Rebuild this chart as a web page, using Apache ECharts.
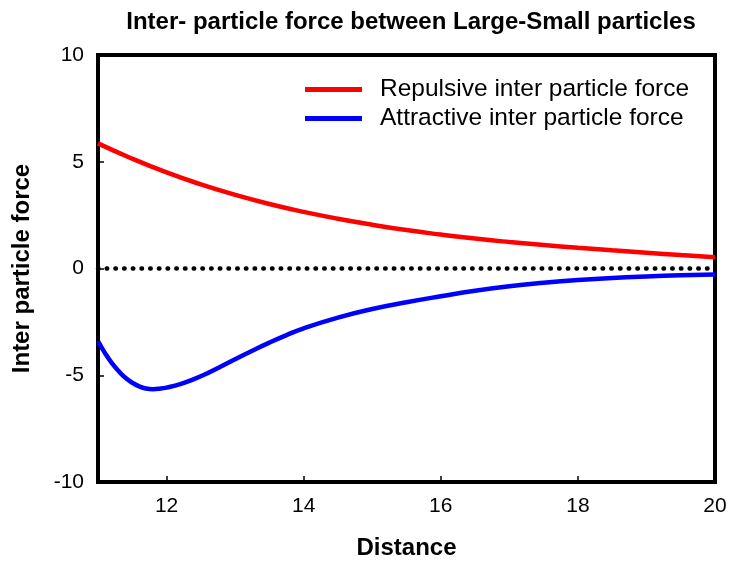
<!DOCTYPE html>
<html>
<head>
<meta charset="utf-8">
<script src="https://cdn.jsdelivr.net/npm/echarts@6/dist/echarts.min.js"></script>
<style>html,body{margin:0;padding:0;background:#fff;}#c{width:752px;height:567px;}</style>
</head>
<body>
<div id="c"></div>
<script>
const titleText = 'Inter- particle force between Large-Small particles';
const xAxisName = 'Distance';
const yAxisName = 'Inter particle force';
const seriesNames = ['Repulsive inter particle force', 'Attractive inter particle force'];
const xTicks = [12, 14, 16, 18, 20];
const yTicks = [-10, -5, 0, 5, 10];

const repulsiveX = [11, 11.5, 12, 12.5, 13, 13.5, 14, 14.5, 15, 15.5, 16, 16.5, 17, 17.5, 18, 18.5, 19, 19.5, 20];
const repulsiveY = [5.86, 5.14, 4.50, 3.94, 3.45, 3.02, 2.65, 2.33, 2.05, 1.80, 1.59, 1.40, 1.24, 1.10, 0.97, 0.85, 0.74, 0.63, 0.53];

const attractiveX = [11, 11.1, 11.2, 11.3, 11.4, 11.5, 11.6, 11.7, 11.8, 11.9, 12, 12.2, 12.4, 12.6, 12.8, 13, 13.25, 13.5, 13.75, 14, 14.5, 15, 15.5, 16, 16.5, 17, 17.5, 18, 18.5, 19, 19.5, 20];
const attractiveY = [-3.40, -3.95, -4.42, -4.80, -5.12, -5.35, -5.52, -5.62, -5.65, -5.63, -5.58, -5.42, -5.18, -4.90, -4.58, -4.25, -3.85, -3.47, -3.12, -2.80, -2.30, -1.90, -1.58, -1.30, -1.04, -0.83, -0.67, -0.54, -0.44, -0.37, -0.32, -0.28];

const zeroX = [11, 20];
const zeroY = [0, 0];

const zip = (xs, ys) => xs.map((x, i) => [x, ys[i]]);
const font = 'Arial, "Liberation Sans", sans-serif';

const chart = echarts.init(document.getElementById('c'));
chart.setOption({
  animation: false,
  backgroundColor: '#fff',
  title: {
    text: titleText,
    left: 406, textAlign: 'center', top: 5,
    textStyle: { fontFamily: font, fontWeight: 'bold', fontSize: 24, color: '#000' }
  },
  legend: {
    orient: 'vertical',
    left: 300, top: 72,
    itemWidth: 57, itemHeight: 5, itemGap: 4,
    icon: 'rect',
    data: seriesNames,
    textStyle: { fontFamily: font, fontSize: 24.5, color: '#000', padding: [0, 0, 0, 13] }
  },
  grid: {
    left: 98, right: 37, top: 55, bottom: 85,
    show: true, borderColor: '#000', borderWidth: 4, backgroundColor: 'transparent'
  },
  xAxis: {
    type: 'value', min: 11, max: 20,
    name: xAxisName, nameLocation: 'middle', nameGap: 54,
    nameTextStyle: { fontFamily: font, fontWeight: 'bold', fontSize: 24, color: '#000' },
    axisLine: { show: true, onZero: false, lineStyle: { color: '#000', width: 4 } },
    axisTick: { show: true, inside: true, length: 6, lineStyle: { color: '#000', width: 1.5 }, customValues: xTicks },
    axisLabel: { fontFamily: font, fontSize: 21, color: '#000', margin: 14, customValues: xTicks },
    splitLine: { show: false }
  },
  yAxis: {
    type: 'value', min: -10, max: 10, interval: 5,
    name: yAxisName, nameLocation: 'middle', nameGap: 64, nameRotate: 90,
    nameTextStyle: { fontFamily: font, fontWeight: 'bold', fontSize: 24, color: '#000' },
    axisLine: { show: true, onZero: false, lineStyle: { color: '#000', width: 4 } },
    axisTick: { show: true, inside: true, length: 6, lineStyle: { color: '#000', width: 1.5 }, customValues: yTicks },
    axisLabel: { fontFamily: font, fontSize: 21, color: '#000', margin: 14, customValues: yTicks },
    splitLine: { show: false }
  },
  series: [
    {
      name: 'zero', type: 'line', showSymbol: false, silent: true,
      data: zip(zeroX, zeroY),
      lineStyle: { color: '#000', width: 4.5, type: [0.5, 8.2], cap: 'round' },
      z: 1
    },
    {
      name: seriesNames[0], type: 'line', smooth: 0.5, showSymbol: false,
      data: zip(repulsiveX, repulsiveY),
      lineStyle: { color: '#ff0000', width: 4.5 }, itemStyle: { color: '#ff0000' }
    },
    {
      name: seriesNames[1], type: 'line', smooth: 0.5, showSymbol: false,
      data: zip(attractiveX, attractiveY),
      lineStyle: { color: '#0000ff', width: 4.5 }, itemStyle: { color: '#0000ff' }
    }
  ]
});
</script>
</body>
</html>
